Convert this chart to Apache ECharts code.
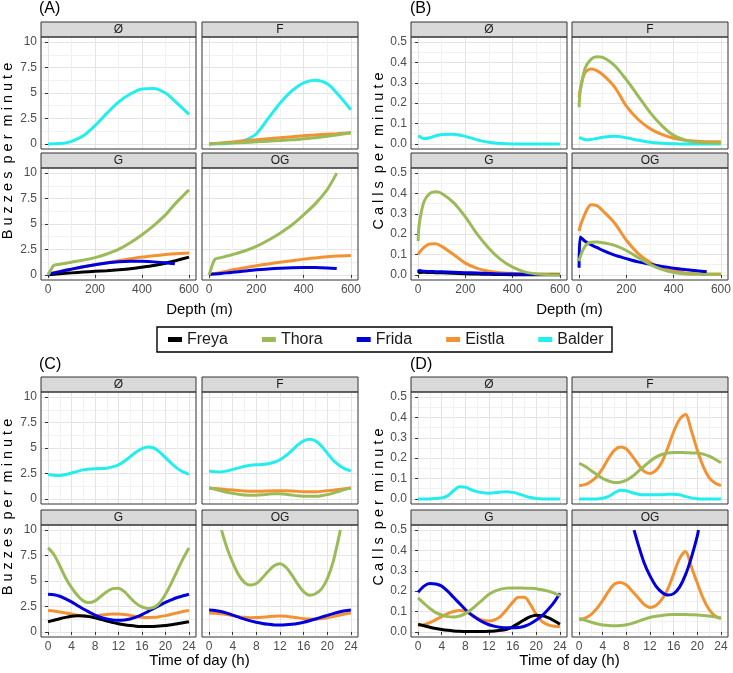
<!DOCTYPE html>
<html><head><meta charset="utf-8">
<script src="https://cdn.jsdelivr.net/npm/echarts@6/dist/echarts.min.js"></script>
<style>html,body{margin:0;padding:0;background:#fff}#chart{width:733px;height:673px}</style>
</head><body><div id="chart"></div>
<script>
// ---------- x samples ----------
const depthX = [0,5,25,50,75,100,150,200,250,300,350,400,450,500,540,600];
const hourX = [0,1,2,3,4,5,6,7,8,9,10,11,12,13,14,15,16,17,18,19,20,21,22,23,24];
const tThoraOG = [2.1,3,4,5,6,7,8,9,10,11,12,13,14,15,16,17,18,19,20,21,22,22.2];
const tFridaOG = [9.3,10,11,12,13,14,15,16,17,18,19,20,20.2];

// ---------- tick labels ----------
const depthTicks = [0,200,400,600];
const hourTicks = [0,4,8,12,16,20,24];
const buzzTicks = [0,2.5,5,7.5,10];
const callTicks = [0,0.1,0.2,0.3,0.4,0.5];
const facets = ['Ø','F','G','OG'];
const whales = ['Freya','Thora','Frida','Eistla','Balder'];

// ---------- (A) buzzes per minute vs depth ----------
const A_O_Balder = [0,0,0.01,0.03,0.1,0.25,0.8,1.8,3.0,4.1,4.9,5.4,5.45,5.0,4.2,2.9];
const A_F_Balder = [0,0,0.01,0.02,0.05,0.1,0.35,1.0,2.5,4.0,5.2,6.0,6.25,5.9,5.0,3.35];
const A_F_Eistla = [0,0.01,0.05,0.1,0.15,0.2,0.3,0.4,0.5,0.6,0.7,0.8,0.88,0.95,1.0,1.1];
const A_F_Thora  = [0,0,0.02,0.05,0.07,0.1,0.15,0.2,0.27,0.33,0.4,0.5,0.6,0.75,0.88,1.1];
const A_G_Thora  = [0,0.2,0.95,1.05,1.15,1.25,1.45,1.7,2.05,2.5,3.15,3.95,4.85,5.9,6.95,8.35];
const A_G_Eistla = [0.1,0.12,0.22,0.33,0.45,0.55,0.78,1.0,1.2,1.4,1.58,1.75,1.88,2.0,2.08,2.15];
const A_G_Frida  = [0.1,0.12,0.2,0.32,0.45,0.57,0.8,1.0,1.17,1.3,1.35,1.33,1.28,1.2,1.1,null];
const A_G_Freya  = [0,0.02,0.07,0.12,0.16,0.2,0.28,0.35,0.42,0.5,0.6,0.75,0.92,1.15,1.38,1.75];
const A_OG_Thora = [0,0.35,1.55,1.7,1.85,2.0,2.35,2.8,3.4,4.1,4.9,5.9,7.0,8.4,10.0,null];
const A_OG_Eistla= [0,0.03,0.13,0.25,0.37,0.5,0.7,0.9,1.08,1.25,1.4,1.55,1.67,1.78,1.85,1.9];
const A_OG_Frida = [0.05,0.06,0.1,0.15,0.2,0.25,0.38,0.5,0.59,0.66,0.71,0.73,0.72,0.68,0.63,null];

// ---------- (B) calls per minute vs depth ----------
const B_O_Balder = [0.04,0.037,0.026,0.03,0.04,0.046,0.048,0.037,0.02,0.008,0.002,0,0,0,0,0];
const B_F_Thora  = [0.18,0.26,0.37,0.415,0.428,0.425,0.385,0.315,0.235,0.155,0.09,0.042,0.018,0.008,0.006,0.005];
const B_F_Eistla = [0.23,0.27,0.35,0.368,0.36,0.34,0.28,0.185,0.12,0.075,0.047,0.028,0.018,0.013,0.011,0.01];
const B_F_Balder = [0.033,0.03,0.021,0.022,0.027,0.033,0.037,0.03,0.018,0.008,0.003,0.001,0,0,0,0];
const B_G_Thora  = [0.166,0.25,0.36,0.4,0.408,0.4,0.355,0.285,0.2,0.13,0.075,0.038,0.015,0.005,0.002,0.001];
const B_G_Eistla = [0.1,0.11,0.135,0.152,0.153,0.14,0.1,0.058,0.032,0.018,0.011,0.008,0.006,0.005,0.004,0.004];
const B_G_Frida  = [0.015,0.022,0.018,0.017,0.016,0.015,0.013,0.011,0.009,0.007,0.005,0.004,0.003,0.002,0.002,null];
const B_G_Freya  = [0.008,0.012,0.013,0.012,0.011,0.01,0.008,0.006,0.004,0.003,0.002,0.001,0.001,0.001,0.001,0.001];
const B_OG_Eistla= [0.215,0.24,0.3,0.345,0.34,0.315,0.255,0.17,0.105,0.062,0.033,0.018,0.01,0.006,0.005,0.004];
const B_OG_Frida = [0.035,0.186,0.165,0.148,0.135,0.12,0.097,0.08,0.064,0.052,0.042,0.033,0.026,0.02,0.016,null];
const B_OG_Thora = [0.067,0.09,0.14,0.16,0.161,0.158,0.145,0.12,0.085,0.052,0.027,0.012,0.005,0.003,0.002,0.002];

// ---------- (C) buzzes per minute vs time of day ----------
const C_O_Balder = [2.4,2.32,2.3,2.4,2.55,2.7,2.85,2.93,2.97,2.98,3.02,3.15,3.35,3.7,4.15,4.6,4.95,5.1,5.0,4.6,4.05,3.5,3.0,2.65,2.4];
const C_F_Balder = [2.75,2.68,2.65,2.75,2.9,3.05,3.2,3.3,3.35,3.38,3.45,3.6,3.85,4.25,4.75,5.3,5.7,5.85,5.7,5.2,4.5,3.8,3.3,2.95,2.75];
const C_F_Eistla = [1.05,1.02,0.98,0.93,0.88,0.83,0.78,0.76,0.75,0.76,0.78,0.8,0.8,0.8,0.78,0.74,0.71,0.7,0.71,0.74,0.79,0.86,0.93,1.0,1.05];
const C_F_Thora  = [1.1,0.95,0.8,0.65,0.55,0.45,0.38,0.35,0.36,0.4,0.46,0.5,0.5,0.46,0.38,0.31,0.27,0.25,0.26,0.32,0.42,0.57,0.75,0.93,1.1];
const C_G_Thora  = [8.25,7.6,6.5,5.3,4.35,3.6,3.05,2.88,3.05,3.5,3.95,4.25,4.3,3.95,3.35,2.8,2.45,2.3,2.4,2.85,3.7,4.8,6.0,7.2,8.25];
const C_G_Frida  = [3.7,3.65,3.5,3.25,2.95,2.6,2.25,1.95,1.65,1.42,1.27,1.18,1.15,1.18,1.27,1.45,1.7,2.0,2.3,2.6,2.9,3.15,3.38,3.55,3.7];
const C_G_Eistla = [2.1,2.05,1.95,1.85,1.75,1.65,1.58,1.55,1.58,1.65,1.72,1.77,1.77,1.72,1.62,1.52,1.45,1.42,1.43,1.5,1.6,1.73,1.87,2.0,2.1];
const C_G_Freya  = [1.0,1.15,1.3,1.43,1.53,1.58,1.57,1.5,1.38,1.23,1.07,0.93,0.8,0.7,0.62,0.56,0.53,0.52,0.53,0.57,0.63,0.7,0.8,0.9,1.0];
const C_OG_Thora = [10,8.3,6.8,5.6,4.85,4.6,4.75,5.3,5.95,6.5,6.7,6.35,5.6,4.7,3.95,3.6,3.75,4.2,5.2,6.9,9.4,10];
const C_OG_Frida = [2.15,2.1,2.0,1.85,1.65,1.45,1.25,1.08,0.95,0.83,0.75,0.69,0.68,0.7,0.75,0.83,0.95,1.1,1.27,1.45,1.62,1.8,1.95,2.07,2.15];
const C_OG_Eistla= [1.85,1.83,1.78,1.7,1.6,1.5,1.43,1.4,1.41,1.45,1.5,1.55,1.56,1.53,1.46,1.38,1.3,1.26,1.25,1.3,1.38,1.5,1.63,1.75,1.85];

// ---------- (D) calls per minute vs time of day ----------
const D_O_Balder = [0,0,0,0.002,0.005,0.015,0.04,0.06,0.058,0.045,0.036,0.03,0.028,0.03,0.034,0.035,0.032,0.025,0.015,0.007,0.002,0,0,0,0];
const D_F_Eistla = [0.065,0.07,0.085,0.11,0.15,0.2,0.24,0.255,0.245,0.21,0.17,0.135,0.125,0.14,0.18,0.25,0.33,0.39,0.415,0.335,0.24,0.16,0.105,0.078,0.065];
const D_F_Thora  = [0.175,0.16,0.14,0.12,0.1,0.088,0.08,0.082,0.092,0.11,0.135,0.16,0.185,0.205,0.218,0.225,0.228,0.228,0.227,0.226,0.225,0.22,0.21,0.195,0.178];
const D_F_Balder = [0,0,0,0,0.003,0.012,0.03,0.043,0.04,0.03,0.023,0.02,0.02,0.02,0.021,0.023,0.023,0.02,0.012,0.005,0.001,0,0,0,0];
const D_G_Frida  = [0.195,0.225,0.238,0.235,0.225,0.2,0.17,0.14,0.11,0.085,0.065,0.048,0.035,0.027,0.022,0.02,0.02,0.022,0.028,0.04,0.058,0.08,0.11,0.145,0.19];
const D_G_Thora  = [0.167,0.14,0.115,0.095,0.083,0.075,0.073,0.078,0.09,0.11,0.135,0.16,0.185,0.2,0.21,0.215,0.216,0.216,0.215,0.214,0.212,0.207,0.2,0.19,0.178];
const D_G_Eistla = [0.03,0.035,0.045,0.06,0.075,0.09,0.1,0.105,0.1,0.085,0.068,0.057,0.053,0.06,0.078,0.11,0.145,0.17,0.17,0.135,0.085,0.05,0.035,0.028,0.025];
const D_G_Freya  = [0.038,0.03,0.023,0.017,0.012,0.008,0.005,0.003,0.002,0.002,0.002,0.002,0.003,0.005,0.008,0.013,0.025,0.042,0.06,0.075,0.082,0.08,0.07,0.055,0.038];
const D_OG_Frida = [0.5,0.43,0.34,0.275,0.225,0.195,0.181,0.188,0.22,0.28,0.365,0.47,0.5];
const D_OG_Eistla= [0.06,0.068,0.085,0.115,0.155,0.2,0.235,0.243,0.23,0.2,0.168,0.135,0.12,0.13,0.16,0.21,0.285,0.36,0.395,0.32,0.24,0.165,0.11,0.078,0.065];
const D_OG_Thora = [0.066,0.058,0.048,0.04,0.034,0.031,0.03,0.031,0.035,0.042,0.052,0.062,0.071,0.077,0.081,0.084,0.085,0.085,0.085,0.084,0.083,0.081,0.078,0.074,0.068];

// ---------- panel contents (facet order: Ø, F, G, OG) ----------
const panelData = {
  A: [
    {Balder:[depthX,A_O_Balder]},
    {Balder:[depthX,A_F_Balder], Eistla:[depthX,A_F_Eistla], Thora:[depthX,A_F_Thora]},
    {Eistla:[depthX,A_G_Eistla], Freya:[depthX,A_G_Freya], Frida:[depthX,A_G_Frida], Thora:[depthX,A_G_Thora]},
    {Eistla:[depthX,A_OG_Eistla], Frida:[depthX,A_OG_Frida], Thora:[depthX,A_OG_Thora]}
  ],
  B: [
    {Balder:[depthX,B_O_Balder]},
    {Balder:[depthX,B_F_Balder], Eistla:[depthX,B_F_Eistla], Thora:[depthX,B_F_Thora]},
    {Eistla:[depthX,B_G_Eistla], Freya:[depthX,B_G_Freya], Frida:[depthX,B_G_Frida], Thora:[depthX,B_G_Thora]},
    {Eistla:[depthX,B_OG_Eistla], Frida:[depthX,B_OG_Frida], Thora:[depthX,B_OG_Thora]}
  ],
  C: [
    {Balder:[hourX,C_O_Balder]},
    {Balder:[hourX,C_F_Balder], Eistla:[hourX,C_F_Eistla], Thora:[hourX,C_F_Thora]},
    {Eistla:[hourX,C_G_Eistla], Freya:[hourX,C_G_Freya], Frida:[hourX,C_G_Frida], Thora:[hourX,C_G_Thora]},
    {Eistla:[hourX,C_OG_Eistla], Frida:[hourX,C_OG_Frida], Thora:[tThoraOG,C_OG_Thora]}
  ],
  D: [
    {Balder:[hourX,D_O_Balder]},
    {Balder:[hourX,D_F_Balder], Eistla:[hourX,D_F_Eistla], Thora:[hourX,D_F_Thora]},
    {Eistla:[hourX,D_G_Eistla], Freya:[hourX,D_G_Freya], Frida:[hourX,D_G_Frida], Thora:[hourX,D_G_Thora]},
    {Eistla:[hourX,D_OG_Eistla], Frida:[tFridaOG,D_OG_Frida], Thora:[hourX,D_OG_Thora]}
  ]
};

// ---------- styling / layout ----------
const FONT = '"Liberation Sans", Arial, Helvetica, sans-serif';
const COLORS = {Freya:'#000000', Thora:'#9BBB59', Frida:'#0000DD', Eistla:'#F39233', Balder:'#22EEEE'};
const DRAW_ORDER = ['Balder','Eistla','Freya','Frida','Thora'];
const blocks = {
  A:{cols:[[41,155],[202,156]], rows:[[37,112],[168,112]], x:'depth', y:'buzz'},
  B:{cols:[[411,156],[572,156]], rows:[[37,112],[168,112]], x:'depth', y:'calls'},
  C:{cols:[[41,155],[202,156]], rows:[[392,112],[525,112]], x:'hour', y:'buzz'},
  D:{cols:[[411,156],[572,156]], rows:[[392,112],[525,112]], x:'hour', y:'calls'}
};
const scales = {
  depth:{min:-30, max:630, step:100, ticks:depthTicks, fmt:v=>String(v)},
  hour:{min:-1.2, max:25.2, step:2, ticks:hourTicks, fmt:v=>String(v)},
  buzz:{min:-0.5, max:10.5, step:1.25, ticks:buzzTicks, fmt:v=>String(v)},
  calls:{min:-0.025, max:0.525, step:0.05, ticks:callTicks, fmt:v=>v.toFixed(1)}
};

const grids = [], xAxes = [], yAxes = [], series = [], graphics = [];
function gridAxis(s, g, pos) {
  return {type:'value', gridIndex:g, min:s.min, max:s.max, minInterval:s.step, maxInterval:s.step, position:pos,
    axisLine:{show:false}, axisTick:{show:false}, axisLabel:{show:false},
    splitLine:{show:true, showMinLine:false, showMaxLine:false, lineStyle:{color:['#E4E4E4','#F1F1F1'], width:1}}};
}
function labelAxis(s, g, pos, visible) {
  return {type:'value', gridIndex:g, min:s.min, max:s.max, position:pos, show:visible,
    axisLine:{show:false},
    axisTick:{show:true, length:3, lineStyle:{color:'#333', width:1}, customValues:s.ticks},
    axisLabel:{show:true, customValues:s.ticks, formatter:s.fmt, fontSize:12, color:'#4D4D4D', fontFamily:FONT, margin:4},
    splitLine:{show:false}};
}
function pairs(xs, ys) {
  const out = [];
  for (let i = 0; i < xs.length; i++) if (ys[i] != null) out.push([xs[i], ys[i]]);
  return out;
}

Object.keys(blocks).forEach(function (b) {
  const B = blocks[b];
  facets.forEach(function (f, i) {
    const r = Math.floor(i / 2), c = i % 2;
    const left = B.cols[c][0], width = B.cols[c][1], top = B.rows[r][0], height = B.rows[r][1];
    const g = grids.length;
    grids.push({left:left, top:top, width:width, height:height, show:false, containLabel:false, outerBoundsMode:'none'});
    const xs = scales[B.x], ys = scales[B.y];
    xAxes.push(gridAxis(xs, g, 'bottom'));
    xAxes.push(labelAxis(xs, g, 'bottom', r === 1));
    yAxes.push(gridAxis(ys, g, 'left'));
    yAxes.push(labelAxis(ys, g, 'left', c === 0));
    const content = panelData[b][i];
    DRAW_ORDER.forEach(function (w) {
      if (!content[w]) return;
      series.push({type:'line', name:w, xAxisIndex:2*g, yAxisIndex:2*g,
        data:pairs(content[w][0], content[w][1]), showSymbol:false, symbol:'none',
        smooth:0.3, clip:true, lineStyle:{width:3, color:COLORS[w]}, itemStyle:{color:COLORS[w]},
        emphasis:{disabled:true}, silent:true});
    });
    // strip
    graphics.push({type:'rect', shape:{x:left, y:top-15, width:width, height:15}, style:{fill:'#D9D9D9', stroke:'#333', lineWidth:1}, z:50});
    graphics.push({type:'text', x:left+width/2, y:top-7, z:51, style:{text:f, fontSize:12, fontFamily:FONT, fill:'#1A1A1A', align:'center', verticalAlign:'middle'}});
    // panel border
    graphics.push({type:'rect', shape:{x:left, y:top, width:width, height:height}, style:{fill:'none', stroke:'#333', lineWidth:1}, z:50});
  });
});

// panel letters
[['(A)',39,9],['(B)',410,9],['(C)',39,365],['(D)',410,365]].forEach(function (p) {
  graphics.push({type:'text', x:p[1], y:p[2], z:51, style:{text:p[0], fontSize:16, fontFamily:FONT, fill:'#000', align:'left', verticalAlign:'middle'}});
});
// x titles
[['Depth (m)',199.5,310],['Depth (m)',569.5,310],['Time of day (h)',199.5,661],['Time of day (h)',569.5,661]].forEach(function (p) {
  graphics.push({type:'text', x:p[1], y:p[2], z:51, style:{text:p[0], fontSize:15, fontFamily:FONT, fill:'#000', align:'center', verticalAlign:'middle'}});
});
// y titles (letter-spaced)
[['B u z z e s  p e r  m i n u t e',8,151],['C a l l s  p e r  m i n u t e',379,151],
 ['B u z z e s  p e r  m i n u t e',8,507],['C a l l s  p e r  m i n u t e',379,507]].forEach(function (p) {
  graphics.push({type:'text', x:p[1], y:p[2], rotation:Math.PI/2, z:51, style:{text:p[0], fontSize:14.5, fontFamily:FONT, fill:'#000', align:'center', verticalAlign:'middle'}});
});
// legend box
graphics.push({type:'rect', shape:{x:157, y:327, width:455, height:25}, style:{fill:'#fff', stroke:'#000', lineWidth:1.4}, z:0});

const chart = echarts.init(document.getElementById('chart'), null, {renderer:'canvas'});
chart.setOption({
  animation:false,
  backgroundColor:'#fff',
  grid:grids, xAxis:xAxes, yAxis:yAxes, series:series,
  legend:{data:whales, left:168, top:331.5, padding:0, icon:'rect', itemWidth:14, itemHeight:5, itemGap:34,
    selectedMode:false, textStyle:{fontSize:16, color:'#1A1A1A', fontFamily:FONT}, z:10},
  graphic:{elements:graphics}
});
</script></body></html>
